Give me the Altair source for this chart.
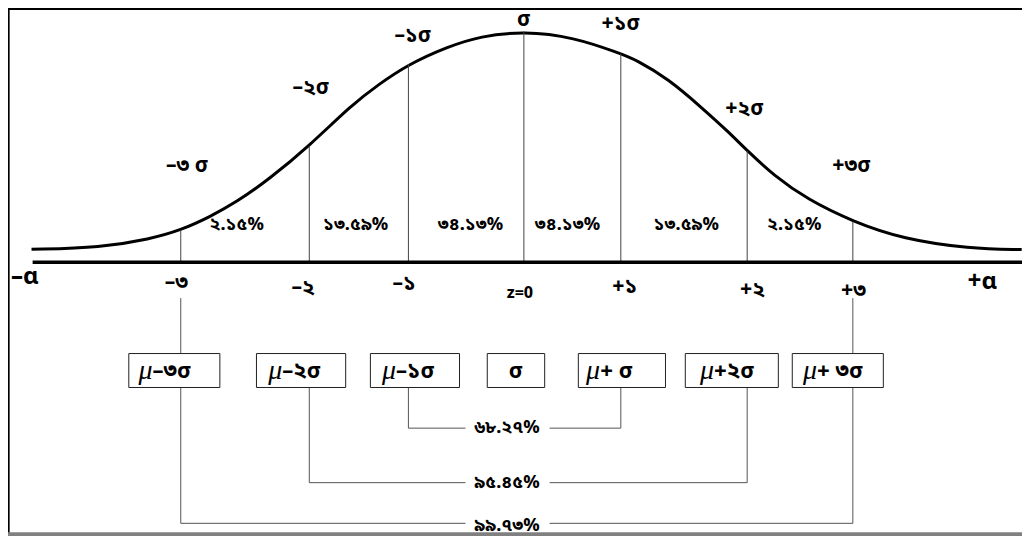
import altair as alt
import pandas as pd

# ---- values (x in z-units, y in % of the peak height) ----
X_DOMAIN = [-4.736, 4.573]
Y_DOMAIN = [-118.49, 110.08]

curve_z = [-4.52, -3.88, -3.43, -3.15, -2.882, -2.636, -2.336, -1.97, -1.582, -1.336,
           -1.06, -0.70, -0.40, 0.0, 0.455, 0.89, 1.027, 1.327, 1.636, 1.873, 2.05, 2.30,
           2.60, 3.02, 3.48, 4.09, 4.57]
curve_h = [5.6, 6.4, 10.1, 13.9, 19.7, 26.1, 36.1, 50.4, 68.1, 76.9,
           85.7, 93.3, 97.9, 100.0, 97.5, 90.3, 87.7, 79.4, 66.8, 56.7, 48.3, 37.4,
           27.3, 17.6, 10.1, 5.9, 5.5]

sd_z = [-3.15, -1.97, -1.06, 0.0, 0.89, 2.05, 3.02]
sd_h = [13.9, 50.4, 85.7, 100.0, 90.3, 48.3, 17.6]

sigma_labels = ["–৩ σ", "–২σ", "–১σ", "σ", "+১σ", "+২σ", "+৩σ"]
sigma_z = [-3.09, -1.955, -1.018, 0.0, 0.89, 2.027, 3.009]
sigma_h = [41.6, 75.6, 97.9, 105.0, 103.2, 66.4, 41.6]

pct_labels = ["২.১৫%", "১৩.৫৯%", "৩৪.১৩%", "৩৪.১৩%", "১৩.৫৯%", "২.১৫%"]
pct_z = [-2.636, -1.545, -0.491, 0.40, 1.491, 2.482]
pct_h = 16.0

tick_labels = ["–৩", "–২", "–১", "+১", "+২", "+৩"]
tick_z = [-3.19, -2.027, -1.10, 0.927, 2.10, 3.027]
tick_h = [-8.8, -11.3, -9.2, -10.9, -11.8, -12.6]

alpha_labels = ["–α", "+α"]
alpha_z = [-4.58, 4.209]
alpha_h = [-6.3, -8.4]

zero_label = "z=0"
zero_z, zero_h = -0.036, -13.4

box_left = [-3.627, -2.455, -1.409, -0.336, 0.50, 1.482, 2.464]
box_right = [-2.791, -1.636, -0.591, 0.191, 1.30, 2.336, 3.30]
box_top, box_bottom = -39.5, -54.2
box_text_h = -47.1
box_mu = ["μ", "μ", "μ", "", "μ", "μ", "μ"]
box_rest = ["–৩σ", "–২σ", "–১σ", "σ", "+ σ", "+২σ", "+ ৩σ"]
box_anchor = [-3.409, -2.218, -1.173, -0.073, 0.70, 1.745, 2.691]

bracket_labels = ["৬৮.২৭%", "৯৫.৪৫%", "৯৯.৭৩%"]
bracket_left = [-1.06, -1.97, -3.15]
bracket_right = [0.89, 2.05, 3.02]
bracket_h = [-71.8, -95.4, -113.0]
bracket_text_h = [-71.8, -95.4, -114.2]
bracket_text_z = -0.155
gap_left, gap_right = -0.536, 0.236

tick_conn_top, tick_conn_bottom = -15.5, box_top
axis_start = -4.51

FONT = "Noto Sans Bengali, Noto Sans, DejaVu Sans"

xs = alt.Scale(domain=X_DOMAIN, nice=False, zero=False)
ys = alt.Scale(domain=Y_DOMAIN, nice=False, zero=False)
X = lambda f: alt.X(f, type="quantitative", scale=xs, axis=None)
Y = lambda f: alt.Y(f, type="quantitative", scale=ys, axis=None)

# ---- segments (rules) ----
segs = []
for z, h in zip(sd_z, sd_h):
    segs.append(dict(x=z, y=0, x2=z, y2=h, w=1.0, c="#444444"))
for z in (sd_z[0], sd_z[-1]):
    segs.append(dict(x=z, y=tick_conn_top, x2=z, y2=tick_conn_bottom, w=1.0, c="#555555"))
for l, r, h in zip(bracket_left, bracket_right, bracket_h):
    segs.append(dict(x=l, y=box_bottom, x2=l, y2=h, w=1.0, c="#555555"))
    segs.append(dict(x=l, y=h, x2=gap_left, y2=h, w=1.0, c="#555555"))
    segs.append(dict(x=gap_right, y=h, x2=r, y2=h, w=1.0, c="#555555"))
    segs.append(dict(x=r, y=h, x2=r, y2=box_bottom, w=1.0, c="#555555"))
seg_df = pd.DataFrame(segs)

rules = alt.Chart(seg_df).mark_rule().encode(
    x=X("x"), y=Y("y"), x2="x2", y2="y2",
    color=alt.Color("c:N", scale=None),
    strokeWidth=alt.StrokeWidth("w:Q", scale=None),
)

base_df = pd.DataFrame([dict(x=axis_start, x2=X_DOMAIN[1], y=0)])
baseline = alt.Chart(base_df).mark_rule(color="black", strokeWidth=3.5).encode(
    x=X("x"), x2="x2", y=Y("y"))

frame_df = pd.DataFrame([
    dict(x=X_DOMAIN[0] + 0.006, y=Y_DOMAIN[0], x2=X_DOMAIN[0] + 0.006, y2=Y_DOMAIN[1]),
    dict(x=X_DOMAIN[0], y=Y_DOMAIN[1] - 0.4, x2=X_DOMAIN[1], y2=Y_DOMAIN[1] - 0.4),
])
frame = alt.Chart(frame_df).mark_rule(color="black", strokeWidth=2).encode(
    x=X("x"), y=Y("y"), x2="x2", y2="y2")
band_df = pd.DataFrame([dict(x=X_DOMAIN[0], x2=X_DOMAIN[1], y=Y_DOMAIN[0], y2=Y_DOMAIN[0] + 1.6)])
band = alt.Chart(band_df).mark_rect(color="#808080").encode(
    x=X("x"), x2="x2", y=Y("y"), y2="y2")

curve_df = pd.DataFrame(dict(z=curve_z, h=curve_h))
curve = alt.Chart(curve_df).mark_line(color="black", strokeWidth=3, interpolate="basis").encode(
    x=X("z"), y=Y("h"), order="z:Q")

box_df = pd.DataFrame(dict(l=box_left, r=box_right, t=[box_top] * 7, b=[box_bottom] * 7))
boxes = alt.Chart(box_df).mark_rect(fill="white", stroke="#222222", strokeWidth=1).encode(
    x=X("l"), x2="r", y=Y("t"), y2="b")

def text_layer(df, size, align="center", font=FONT, style="normal", weight="bold"):
    return alt.Chart(df).mark_text(
        fontSize=size, align=align, baseline="middle", font=font,
        fontStyle=style, fontWeight=weight, color="black",
    ).encode(x=X("x"), y=Y("y"), text="t:N")

sig_df = pd.DataFrame(dict(x=sigma_z, y=sigma_h, t=sigma_labels))
pct_df = pd.DataFrame(dict(x=pct_z, y=[pct_h] * len(pct_z), t=pct_labels))
tick_df = pd.DataFrame(dict(x=tick_z, y=tick_h, t=tick_labels))
alpha_df = pd.DataFrame(dict(x=alpha_z, y=alpha_h, t=alpha_labels))
zero_df = pd.DataFrame(dict(x=[zero_z], y=[zero_h], t=[zero_label]))
mu_df = pd.DataFrame(dict(x=box_anchor, y=[box_text_h] * 7, t=box_mu))
mu_df = mu_df[mu_df.t != ""]
rest_df = pd.DataFrame(dict(x=box_anchor, y=[box_text_h] * 7, t=box_rest, m=box_mu))
rest_left = rest_df[rest_df.m != ""][["x", "y", "t"]]
rest_center = rest_df[rest_df.m == ""][["x", "y", "t"]]
br_df = pd.DataFrame(dict(x=[bracket_text_z] * 3, y=bracket_text_h, t=bracket_labels))

chart = alt.layer(
    frame, band, curve, rules, baseline, boxes,
    text_layer(sig_df, 21),
    text_layer(pct_df, 18),
    text_layer(tick_df, 21),
    text_layer(alpha_df, 24),
    text_layer(zero_df, 16),
    text_layer(mu_df, 28, align="right", font="Liberation Serif", style="italic", weight="normal"),
    text_layer(rest_left, 22, align="left"),
    text_layer(rest_center, 22),
    text_layer(br_df, 18),
).properties(
    width=1014, height=528, padding=0, autosize=alt.AutoSizeParams(type="none"),
).configure_view(stroke=None)

chart.save("out.html", embed_options={"renderer": "svg", "actions": False})
